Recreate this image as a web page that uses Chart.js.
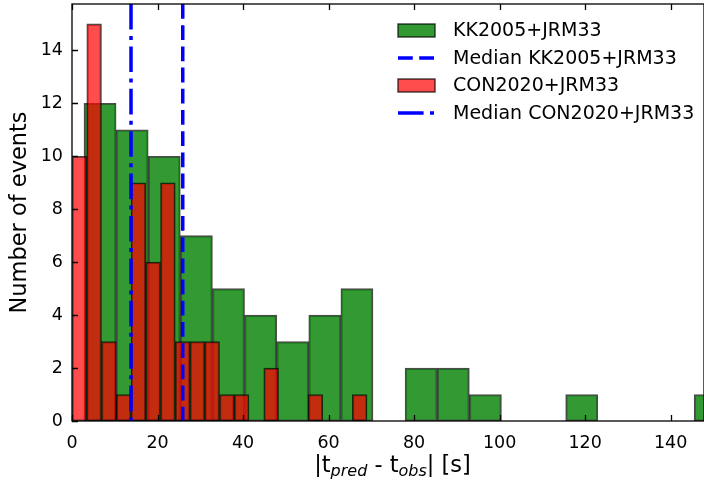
<!DOCTYPE html>
<html>
<head>
<meta charset="utf-8">
<script src="https://cdn.jsdelivr.net/npm/chart.js@4.4.0/dist/chart.umd.min.js"></script>
<style>
html, body { margin: 0; padding: 0; background: #fff; }
canvas { display: block; }
</style>
</head>
<body>
<canvas id="histChart" width="704" height="480"></canvas>
<script>
// counts per bin
const kkLabel = "KK2005+JRM33";
const conLabel = "CON2020+JRM33";
const kkMedianLabel = "Median KK2005+JRM33";
const conMedianLabel = "Median CON2020+JRM33";
const kkCounts = [12, 11, 10, 7, 5, 4, 3, 4, 5, 0, 2, 2, 1, 0, 0, 1, 0, 0, 0, 1];
const conCounts = [10, 15, 3, 1, 9, 6, 9, 3, 3, 3, 1, 1, 0, 2, 0, 0, 1, 0, 0, 1];
const kkBinStart = 2.8, kkBinWidth = 7.51;
const conBinStart = 0, conBinWidth = 3.45;
const kkMedian = 25.9;
const conMedian = 13.8;
const xTicks = [0, 20, 40, 60, 80, 100, 120, 140];
const yTicks = [0, 2, 4, 6, 8, 10, 12, 14];
const xMax = 147.8, yMax = 15.75;

const FONT = "'DejaVu Sans', sans-serif";

function centers(counts, start, width) {
    return counts.map((c, i) => ({ x: start + (i + 0.5) * width, y: c }));
}

// medians, frame, inward ticks, legend and x label
const extras = {
    id: 'extras',
    afterDatasetsDraw(chart) {
        const ctx = chart.ctx;
        const a = chart.chartArea;
        const xs = chart.scales.x;
        ctx.save();
        ctx.beginPath();
        ctx.rect(a.left, a.top, a.right - a.left, a.bottom - a.top);
        ctx.clip();
        ctx.strokeStyle = '#0000ff';
        ctx.lineWidth = 3.5;
        ctx.lineCap = 'butt';
        ctx.setLineDash([14.8, 6.4]);
        let px = xs.getPixelForValue(kkMedian);
        ctx.beginPath(); ctx.moveTo(px, a.top); ctx.lineTo(px, a.bottom); ctx.stroke();
        ctx.setLineDash([25.6, 6.4, 4, 6.4]);
        px = xs.getPixelForValue(conMedian);
        ctx.beginPath(); ctx.moveTo(px, a.top); ctx.lineTo(px, a.bottom); ctx.stroke();
        ctx.restore();
    },
    afterDraw(chart) {
        const ctx = chart.ctx;
        const a = chart.chartArea;
        const xs = chart.scales.x, ys = chart.scales.y;
        ctx.save();
        ctx.strokeStyle = '#000';
        ctx.lineWidth = 1.3;
        ctx.setLineDash([]);
        ctx.strokeRect(a.left, a.top, a.right - a.left, a.bottom - a.top);
        const tl = 6;
        ctx.beginPath();
        xTicks.forEach(v => {
            const p = Math.round(xs.getPixelForValue(v)) + 0.5;
            ctx.moveTo(p, a.bottom); ctx.lineTo(p, a.bottom - tl);
            ctx.moveTo(p, a.top); ctx.lineTo(p, a.top + tl);
        });
        yTicks.forEach(v => {
            const p = Math.round(ys.getPixelForValue(v)) + 0.5;
            ctx.moveTo(a.left, p); ctx.lineTo(a.left + tl, p);
        });
        ctx.stroke();

        // legend
        const items = [
            { label: kkLabel, kind: 'box', fill: 'rgba(0,128,0,0.8)', edge: 'rgba(0,0,0,0.7)' },
            { label: kkMedianLabel, kind: 'line', dash: [14.8, 6.4] },
            { label: conLabel, kind: 'box', fill: 'rgba(255,0,0,0.7)', edge: 'rgba(0,0,0,0.7)' },
            { label: conMedianLabel, kind: 'line', dash: [25.6, 6.4, 4, 6.4] }
        ];
        const lx = 398, lw = 37, tx = 453;
        let ly = 30.5;
        ctx.font = '19px ' + FONT;
        ctx.textBaseline = 'middle';
        ctx.textAlign = 'left';
        items.forEach(it => {
            if (it.kind === 'box') {
                ctx.fillStyle = it.fill;
                ctx.fillRect(lx, ly - 6.5, lw, 13);
                ctx.strokeStyle = it.edge;
                ctx.lineWidth = 1.5;
                ctx.setLineDash([]);
                ctx.strokeRect(lx, ly - 6.5, lw, 13);
            } else {
                ctx.strokeStyle = '#0000ff';
                ctx.lineWidth = 3.5;
                ctx.setLineDash(it.dash);
                ctx.beginPath(); ctx.moveTo(lx, ly); ctx.lineTo(lx + lw, ly); ctx.stroke();
                ctx.setLineDash([]);
            }
            ctx.fillStyle = '#000';
            ctx.fillText(it.label, tx, ly + 1);
            ly += 27.5;
        });

        // x axis label with italic subscripts
        const parts = [
            { t: '|t', sub: false }, { t: 'pred', sub: true },
            { t: ' - t', sub: false }, { t: 'obs', sub: true },
            { t: '| [s]', sub: false }
        ];
        const big = '22.5px ' + FONT, small = 'italic 16px ' + FONT;
        let total = 0;
        parts.forEach(p => { ctx.font = p.sub ? small : big; p.w = ctx.measureText(p.t).width; total += p.w; });
        let x = 392.5 - total / 2;
        const base = 472;
        ctx.textBaseline = 'alphabetic';
        ctx.fillStyle = '#000';
        parts.forEach(p => {
            ctx.font = p.sub ? small : big;
            ctx.fillText(p.t, x, p.sub ? base + 4 : base);
            x += p.w;
        });
        ctx.restore();
    }
};

const ctx = document.getElementById('histChart').getContext('2d');
new Chart(ctx, {
    type: 'bar',
    data: {
        datasets: [{
            label: kkLabel,
            data: centers(kkCounts, kkBinStart, kkBinWidth),
            xAxisID: 'x',
            backgroundColor: 'rgba(0,128,0,0.8)',
            borderColor: 'rgba(0,0,0,0.7)',
            borderWidth: 1.5,
            borderSkipped: false,
            barPercentage: 1,
            categoryPercentage: 1,
            grouped: false,
            order: 2
        }, {
            label: conLabel,
            data: centers(conCounts, conBinStart, conBinWidth),
            xAxisID: 'x2',
            backgroundColor: 'rgba(255,0,0,0.7)',
            borderColor: 'rgba(0,0,0,0.7)',
            borderWidth: 1.5,
            borderSkipped: false,
            barPercentage: 1,
            categoryPercentage: 1,
            grouped: false,
            order: 1
        }]
    },
    options: {
        responsive: false,
        animation: false,
        devicePixelRatio: 1,
        layout: { padding: { top: 4, right: 0, left: 0, bottom: 0 } },
        plugins: {
            legend: { display: false },
            tooltip: { enabled: false }
        },
        scales: {
            x: {
                type: 'linear',
                position: 'bottom',
                offset: false,
                min: 0,
                max: xMax,
                grid: { display: false, drawTicks: false },
                border: { display: false },
                ticks: {
                    stepSize: 20,
                    includeBounds: false,
                    maxRotation: 0,
                    color: '#000',
                    padding: 12,
                    font: { family: FONT, size: 17.5 }
                },
                afterFit(s) { s.height = 59; s.paddingLeft = 0; s.paddingRight = 0; }
            },
            x2: {
                type: 'linear',
                display: false,
                offset: false,
                min: 0,
                max: xMax,
                ticks: { stepSize: 20, includeBounds: false }
            },
            y: {
                min: 0,
                max: yMax,
                grid: { display: false, drawTicks: false },
                border: { display: false },
                ticks: {
                    stepSize: 2,
                    includeBounds: false,
                    color: '#000',
                    padding: 9,
                    font: { family: FONT, size: 17.5 }
                },
                title: {
                    display: true,
                    text: 'Number of events',
                    color: '#000',
                    font: { family: FONT, size: 22.5 },
                    padding: { top: 7, bottom: 0 }
                },
                afterFit(s) { s.width = 72; s.paddingTop = 0; s.paddingBottom = 0; }
            }
        }
    },
    plugins: [extras]
});
</script>
</body>
</html>
